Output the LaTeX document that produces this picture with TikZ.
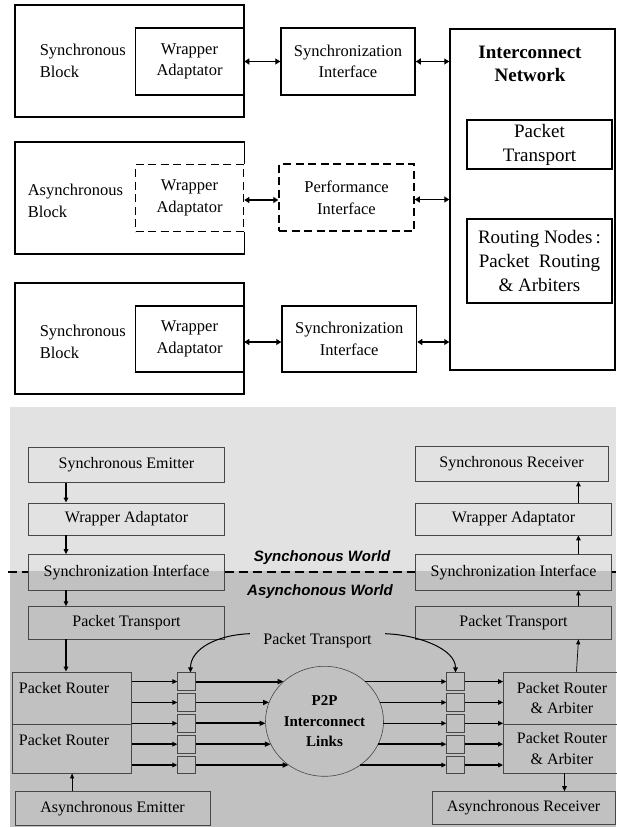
\documentclass[tikz,border=0pt]{standalone}
\usepackage{fontspec}
\setmainfont{Liberation Serif}
\setsansfont{Liberation Sans}
\usetikzlibrary{arrows.meta,calc,shapes.geometric}
\definecolor{lightbg}{gray}{0.885}
\definecolor{darkbg}{gray}{0.755}
\definecolor{boxline}{gray}{0.28}

\begin{document}
\begin{tikzpicture}[x=1pt,y=-1pt,
    blk/.style={draw,line width=1.5pt,inner sep=0pt,align=center,font=\fontsize{16.5}{21.7}\selectfont},
    dblk/.style={blk,dash pattern=on 8pt off 4.5pt},
    box/.style={draw=boxline,line width=0.8pt,inner sep=0pt,align=center,font=\fontsize{16}{20.5}\selectfont},
    sq/.style={draw=boxline,line width=0.8pt,inner sep=0pt,minimum size=17.5pt},
    darr/.style={{Triangle[length=5pt,width=6pt]}-{Triangle[length=5pt,width=6pt]},line width=1.6pt},
    arr/.style={-{Triangle[length=5pt,width=4.5pt]},line width=1.4pt},
    fatarr/.style={-{Triangle[length=6pt,width=5pt]},line width=1.9pt},
    thinarr/.style={-{Triangle[length=5pt,width=4pt]},line width=0.7pt},
    carr/.style={-{Triangle[length=5pt,width=4.5pt]},line width=1pt},
    divline/.style={line width=2pt,dash pattern=on 9pt off 5pt},
    world/.style={inner sep=0pt,font=\sffamily\bfseries\itshape\fontsize{15}{18}\selectfont}]
    \fill[white] (0,0) rectangle (616,827);
    \useasboundingbox (0,0) rectangle (616,827);

    % upper diagram
    \node[blk,minimum width=229pt,minimum height=112pt] (blkA) at (129.5,61) {};
    \node[blk,draw=none,anchor=west,align=left] (blkAtxt) at (39,61) {Synchronous\\Block};
    \node[blk,minimum width=108pt,minimum height=67pt] (wrapA) at (189.5,61.5) {Wrapper\\Adaptator};
    \node[blk,minimum width=134pt,minimum height=67pt] (syncA) at (348,61.5) {Synchronization\\Interface};

    \node[dblk,minimum width=108pt,minimum height=67pt] (wrapB) at (189.5,198) {Wrapper\\Adaptator};
    \draw[line width=1.5pt] (wrapB.north east) -- (wrapB.north east |- 0,142) -- (15,142) -- (15,254)
        -- (wrapB.south east |- 0,254) -- (wrapB.south east);
    \node[blk,draw=none,anchor=west,align=left] (blkBtxt) at (27,201) {Asynchronous\\Block};
    \node[dblk,minimum width=135pt,minimum height=67pt] (perfB) at (346.5,197.5) {Performance\\Interface};

    \node[blk,minimum width=229pt,minimum height=111pt] (blkC) at (129.5,338.5) {};
    \node[blk,draw=none,anchor=west,align=left] (blkCtxt) at (39,342) {Synchronous\\Block};
    \node[blk,minimum width=108pt,minimum height=66pt] (wrapC) at (189.5,339) {Wrapper\\Adaptator};
    \node[blk,minimum width=134.5pt,minimum height=66pt] (syncC) at (349.25,339) {Synchronization\\Interface};

    \node[blk,minimum width=165pt,minimum height=341pt] (net) at (532.5,199.5) {};
    \node[blk,draw=none,font=\bfseries\fontsize{19}{23}\selectfont] (nettxt) at (530,63.5) {Interconnect\\Network};
    \node[blk,font=\fontsize{19}{24}\selectfont,minimum width=145pt,minimum height=49pt] (ptNet) at (539.5,144.5) {Packet\\Transport};
    \node[blk,font=\fontsize{19}{24}\selectfont,minimum width=145pt,minimum height=84pt] (rtNet) at (539.5,261) {Routing~Nodes\,:\\Packet~~Routing\\\& Arbiters};

    \draw[darr] (wrapA.east) -- (wrapA.east -| syncA.west);
    \draw[darr] (syncA.east) -- (syncA.east -| net.west);
    \draw[darr] ([yshift=-2pt]wrapB.east) -- ([yshift=-2pt]wrapB.east -| perfB.west);
    \draw[darr] ([yshift=-2pt]perfB.east) -- ([yshift=-2pt]perfB.east -| net.west);
    \draw[darr] ([yshift=-3pt]wrapC.east) -- ([yshift=-3pt]wrapC.east -| syncC.west);
    \draw[darr] ([yshift=-3pt]syncC.east) -- ([yshift=-3pt]syncC.east -| net.west);

    % lower diagram
    \fill[lightbg] (10,407) rectangle (616,571);
    \fill[darkbg] (10,571) rectangle (616,827);

    \node[box,minimum width=195.5pt,minimum height=34.6pt] (semL) at (126.5,465) {Synchronous Emitter};
    \node[box,minimum width=195.5pt,minimum height=32pt] (waL) at (126.5,519) {Wrapper Adaptator};
    \node[box,minimum width=195.5pt,minimum height=35.5pt] (siL) at (126.5,572.3) {Synchronization Interface};
    \node[box,minimum width=195.5pt,minimum height=32.3pt] (ptL) at (126.5,622.8) {Packet Transport};

    \node[box,minimum width=192.7pt,minimum height=34.3pt] (semR) at (511.6,463.9) {Synchronous Receiver};
    \node[box,minimum width=196.5pt,minimum height=32pt] (waR) at (513.5,519) {Wrapper Adaptator};
    \node[box,minimum width=196.5pt,minimum height=35.5pt] (siR) at (513.5,572.3) {Synchronization Interface};
    \node[box,minimum width=196.5pt,minimum height=32.3pt] (ptR) at (513.5,622.8) {Packet Transport};

    \coordinate (sepL) at (8,572.3);
    \coordinate (sepR) at (616,572.3);
    \draw[divline] (sepL) -- (siL.west);
    \draw[divline] (siL.east) -- (siR.west);
    \draw[divline] (siR.east) -- (sepR);
    \node[world] (synw) at (322,557.7) {Synchonous World};
    \node[world] (asynw) at (320,591.7) {Asynchonous World};

    \node[box,minimum width=119pt,minimum height=52pt] (pr1) at (72.1,698) {};
    \node[box,minimum width=119pt,minimum height=49pt] (pr2) at (72.1,748.5) {};
    \node[box,draw=none,anchor=base west] (pr1txt) at (18.5,693.5) {Packet Router};
    \node[box,draw=none,anchor=base west] (pr2txt) at (18.5,745.5) {Packet Router};
    \node[box,minimum width=195pt,minimum height=33.3pt] (aem) at (112.5,808.3) {Asynchronous Emitter};

    \node[box,minimum width=117pt,minimum height=52pt] (pra1) at (562,698) {Packet Router\\\& Arbiter};
    \node[box,minimum width=117pt,minimum height=49pt] (pra2) at (562,748.5) {Packet Router\\\& Arbiter};
    \node[box,minimum width=182.7pt,minimum height=33pt] (arec) at (523.6,808.1) {Asynchronous Receiver};

    \node[ellipse,draw=boxline,line width=0.6pt,minimum width=118pt,minimum height=110pt,inner sep=0pt,
        align=center,font=\bfseries\fontsize{15}{20.5}\selectfont] (p2p) at (324.5,721.3) {P2P\\Interconnect\\Links};
    \node[box,draw=none] (ptmid) at (317.5,640.7) {Packet Transport};

    \foreach \i/\y in {1/681.6,2/702.45,3/723.3,4/744.15,5/765} {
        \node[sq] (sqL\i) at (186.5,\y) {};
        \node[sq] (sqR\i) at (455.5,\y) {};
    }

    \coordinate (colL) at (66,0);
    \coordinate (colR) at (578.4,0);
    \draw[arr] (semL.south -| colL) -- (waL.north -| colL);
    \draw[arr] (waL.south -| colL) -- (siL.north -| colL);
    \draw[arr] (siL.south -| colL) -- (ptL.north -| colL);
    \draw[arr] (ptL.south -| colL) -- (pr1.north -| colL);
    \draw[thinarr] (aem.north -| pr2.south) -- (pr2.south);
    \draw[arr] (ptR.north -| colR) -- (siR.south -| colR);
    \draw[arr] (siR.north -| colR) -- (waR.south -| colR);
    \draw[arr] (waR.north -| colR) -- (semR.south -| colR);
    \draw[thinarr] ([xshift=14.5pt]pra1.north) -- ([xshift=65pt]ptR.south);
    \draw[arr] ([xshift=2.5pt]pra2.south) -- ([xshift=2.5pt]pra2.south |- arec.north);

    \foreach \i in {1,...,5} {
        \draw[arr] (sqL\i.west -| pr1.east) -- (sqL\i.west);
        \draw[arr] (sqR\i.east) -- (sqR\i.east -| pra1.west);
        \draw[fatarr] let \p1=(sqL\i.east), \p2=(p2p.center), \n1={59*sqrt(1-((\y1-\y2)/55)^2)} in
            (\p1) -- (\x2-\n1,\y1);
        \draw[arr] let \p1=(sqR\i.west), \p2=(p2p.center), \n1={59*sqrt(1-((\y1-\y2)/55)^2)} in
            (\x2+\n1,\y1) -- (\p1);
    }

    \draw[carr] ([xshift=-13pt,yshift=7pt]ptmid.west) .. controls +(-32,1) and +(0,-24) .. ([xshift=4pt]sqL1.north);
    \draw[carr] ([xshift=13pt,yshift=7pt]ptmid.east) .. controls +(32,1) and +(0,-24) .. (sqR1.north);
\end{tikzpicture}
\end{document}
